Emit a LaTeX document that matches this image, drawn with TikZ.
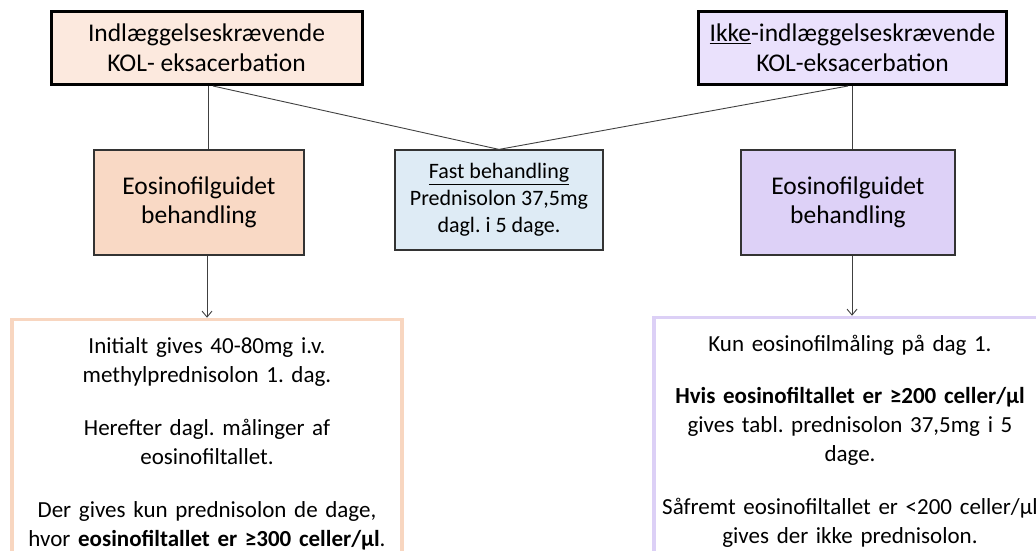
\documentclass[tikz,border=0pt]{standalone}
\usepackage{fontspec}
\setmainfont{Carlito}
\usepackage{xcolor}
\usetikzlibrary{arrows.meta,calc,positioning}
\definecolor{peachlight}{RGB}{252,233,222}
\definecolor{lilaclight}{RGB}{234,225,252}
\definecolor{peach}{RGB}{249,217,197}
\definecolor{lilac}{RGB}{221,209,247}
\definecolor{iceblue}{RGB}{222,235,245}
\definecolor{peachline}{RGB}{248,214,192}
\definecolor{lilacline}{RGB}{220,208,246}
\frenchspacing

\begin{document}
\begin{tikzpicture}[x=1pt, y=-1pt,
    topbox/.style={draw=black, line width=3pt, align=center, inner sep=0pt,
      font=\fontsize{25.5}{30}\selectfont},
    midbox/.style={draw=black!80, line width=1.2pt, align=center, inner sep=0pt,
      font=\fontsize{25.5}{29}\selectfont},
    dosbox/.style={fill=white, line width=3.5pt, align=center, inner xsep=0pt,
      inner ysep=18pt, anchor=north, font=\fontsize{23}{29}\selectfont},
    link/.style={black!75, line width=0.9pt}]
  \clip (0,0) rectangle (1036,551);
  % Admission boxes
  \node[topbox, fill=peachlight, minimum width=311, minimum height=73] (indl) at (206.5,48)
    {Indlæggelseskrævende\\KOL- eksacerbation};
  \node[topbox, fill=lilaclight, minimum width=308, minimum height=73] (ikke) at (852.5,48)
    {\underline{Ikke}-indlæggelseskrævende\\KOL-eksacerbation};
  % Treatment boxes
  \node[midbox, fill=peach, minimum width=210, minimum height=105] (eosL) at (199,202.5)
    {Eosinofilguidet\\behandling};
  \node[midbox, fill=iceblue, minimum width=208, minimum height=100,
    font=\fontsize{22}{27}\selectfont] (fast) at (499,200)
    {\underline{Fast behandling}\\Prednisolon 37,5mg\\dagl. i 5 dage.};
  \node[midbox, fill=lilac, minimum width=214, minimum height=105] (eosR) at (848,202.5)
    {Eosinofilguidet\\behandling};
  % Dosage boxes
  \node[dosbox, draw=peachline, text width=390] (dosL) at (207,317.75)
    {Initialt gives 40-80mg i.v.\\methylprednisolon 1. dag.\\[24pt]
     Herefter dagl. målinger af\\eosinofiltallet.\\[24pt]
     Der gives kun prednisolon de dage,\\hvor \textbf{eosinofiltallet er ≥300 celler/µl}.};
  \node[dosbox, draw=lilacline, text width=392] (dosR) at (850,315.75)
    {Kun eosinofilmåling på dag 1.\\[23pt]
     \textbf{Hvis eosinofiltallet er ≥200 celler/µl}\\gives tabl. prednisolon 37,5mg i 5\\dage.\\[24pt]
     Såfremt eosinofiltallet er <200 celler/µl\\gives der ikke prednisolon.};
  % Connectors
  \draw[link] ([xshift=1.5pt]indl.south) -- ([xshift=1.5pt]indl.south |- eosL.north);
  \draw[link] ([xshift=6.5pt]indl.south) -- (fast.north);
  \draw[link] ([xshift=-4.5pt]ikke.south) -- (fast.north);
  \draw[link] (ikke.south) -- (ikke.south |- eosR.north);
  \draw[link, -{Straight Barb[length=6pt,width=10pt]}] (eosL.south -| dosL.north) -- (dosL.north);
  \draw[link, -{Straight Barb[length=6pt,width=10pt]}] ([xshift=2pt]eosR.south -| dosR.north) -- ([xshift=2pt]dosR.north);
\end{tikzpicture}
\end{document}
